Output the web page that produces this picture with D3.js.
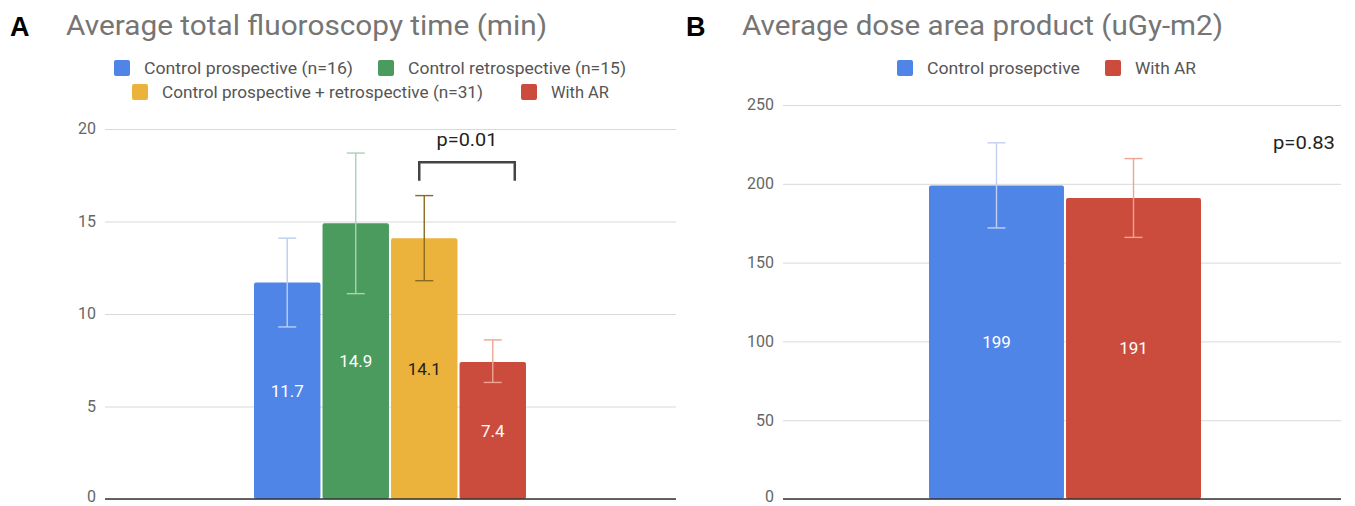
<!DOCTYPE html>
<html><head><meta charset="utf-8">
<script src="https://cdn.jsdelivr.net/npm/d3@7"></script>
<style>
html,body{margin:0;padding:0;background:#fff;}
svg{display:block;font-family:Roboto,"Noto Sans",Arial,sans-serif;}
</style></head>
<body>
<svg id="chart" width="1355" height="506"></svg>
<script>
// ---- Panel A data ----
const fluoroCategories = ["Control prospective (n=16)", "Control retrospective (n=15)", "Control prospective + retrospective (n=31)", "With AR"];
const fluoroValues = [11.7, 14.9, 14.1, 7.4];
const fluoroErrLow = [9.3, 11.1, 11.8, 6.3];
const fluoroErrHigh = [14.1, 18.7, 16.4, 8.6];
const fluoroTicks = [0, 5, 10, 15, 20];
const fluoroLabels = ["11.7", "14.9", "14.1", "7.4"];
// ---- Panel B data ----
const doseCategories = ["Control prosepctive", "With AR"];
const doseValues = [199, 191];
const doseErrLow = [172, 166];
const doseErrHigh = [226, 216];
const doseTicks = [0, 50, 100, 150, 200, 250];
const doseLabels = ["199", "191"];

const svg = d3.select("#chart");

function panel(o) {
  const g = svg.append("g");
  g.append("text").attr("x", o.letterX).attr("y", 36).attr("font-size", 27).attr("font-weight", "bold")
    .attr("fill", "#000").attr("font-family", "Arial, Liberation Sans, sans-serif").text(o.letter);
  g.append("text").attr("x", o.titleX).attr("y", 35).attr("font-size", 27).attr("fill", "#757575")
    .attr("textLength", 481).attr("lengthAdjust", "spacingAndGlyphs").text(o.title);

  const y = d3.scaleLinear().domain([0, o.ticks[o.ticks.length - 1]]).range([499, o.yTop]);
  const x = d3.scaleBand().domain(o.cats).range(o.barRange).paddingInner(o.padInner);

  const yAxis = d3.axisLeft(y).tickValues(o.ticks).tickSize(-(o.gridX1 - o.gridX0)).tickPadding(9);
  const ax = g.append("g").attr("transform", `translate(${o.gridX0},0)`).call(yAxis);
  ax.select(".domain").remove();
  ax.selectAll(".tick line").attr("stroke", "#d9d9d9").attr("stroke-width", 1);
  ax.selectAll(".tick text").attr("fill", "#666").attr("font-size", 16)
    .attr("dy", d => d === 0 ? "0.15em" : "0.3em")
    .attr("font-family", "Roboto, sans-serif");

  g.selectAll("rect.bar").data(o.values).enter().append("rect")
    .attr("x", (d, i) => x(o.cats[i])).attr("width", x.bandwidth())
    .attr("y", d => y(d)).attr("height", d => y(0) - y(d))
    .attr("rx", 2).attr("fill", (d, i) => o.colors[i]);

  g.append("line").attr("x1", o.gridX0).attr("x2", o.gridX1).attr("y1", y(0)).attr("y2", y(0))
    .attr("stroke", "#333").attr("stroke-width", 1.5);

  const cap = 9;
  o.values.forEach((d, i) => {
    const cx = x(o.cats[i]) + x.bandwidth() / 2;
    const c = o.errColors[i];
    g.append("line").attr("x1", cx).attr("x2", cx).attr("y1", y(o.low[i])).attr("y2", y(o.high[i])).attr("stroke", c).attr("stroke-width", 1.4);
    g.append("line").attr("x1", cx - cap).attr("x2", cx + cap).attr("y1", y(o.low[i])).attr("y2", y(o.low[i])).attr("stroke", c).attr("stroke-width", 1.4);
    g.append("line").attr("x1", cx - cap).attr("x2", cx + cap).attr("y1", y(o.high[i])).attr("y2", y(o.high[i])).attr("stroke", c).attr("stroke-width", 1.4);
    g.append("text").attr("x", cx).attr("y", (y(d) + y(0)) / 2).attr("dy", "0.35em").attr("text-anchor", "middle")
      .attr("font-size", 17).attr("fill", o.labelColors[i]).text(o.labels[i]);
  });

  o.legend.forEach(L => {
    g.append("rect").attr("x", L.x).attr("y", L.y - 8).attr("width", 16).attr("height", 16).attr("rx", 2).attr("fill", o.colors[L.i]);
    g.append("text").attr("x", L.x + 30).attr("y", L.y).attr("dy", "0.35em").attr("font-size", 16.5).attr("fill", "#555")
      .attr("textLength", L.w).attr("lengthAdjust", "spacingAndGlyphs").text(o.cats[L.i]);
  });
  return { g, x, y };
}

const A = panel({
  letter: "A", letterX: 10, titleX: 66, title: "Average total fluoroscopy time (min)",
  cats: fluoroCategories, values: fluoroValues, low: fluoroErrLow, high: fluoroErrHigh, labels: fluoroLabels,
  ticks: fluoroTicks, yTop: 129, barRange: [254, 526], padInner: 0.03,
  gridX0: 105, gridX1: 676,
  colors: ["#5085e8", "#4b9b5e", "#ebb33b", "#cb4c3d"],
  errColors: ["#bccdf0", "#a9d2b6", "#8a6a1e", "#eea493"],
  labelColors: ["#fff", "#fff", "#222", "#fff"],
  legend: [{ i: 0, x: 114, y: 68, w: 209 }, { i: 1, x: 378, y: 68, w: 218 }, { i: 2, x: 132, y: 92, w: 321 }, { i: 3, x: 521, y: 92, w: 58 }]
});

(function () {
  const x = A.x, y = A.y;
  const x0 = x(fluoroCategories[2]) + x.bandwidth() / 2 - 5;
  const x1 = x(fluoroCategories[3]) + x.bandwidth() / 2 + 22;
  const yt = y(18.2), yb = y(17.2);
  A.g.append("path").attr("d", `M${x0},${yb}V${yt}H${x1}V${yb}`).attr("fill", "none").attr("stroke", "#444").attr("stroke-width", 2.5);
  A.g.append("text").attr("x", (x0 + x1) / 2).attr("y", y(19.1)).attr("text-anchor", "middle").attr("font-size", 18.5)
    .attr("fill", "#222").attr("textLength", 61).attr("lengthAdjust", "spacingAndGlyphs").text("p=0.01");
})();

const B = panel({
  letter: "B", letterX: 686, titleX: 742, title: "Average dose area product (uGy-m2)",
  cats: doseCategories, values: doseValues, low: doseErrLow, high: doseErrHigh, labels: doseLabels,
  ticks: doseTicks, yTop: 105, barRange: [929, 1201], padInner: 0.015,
  gridX0: 783, gridX1: 1341,
  colors: ["#5085e8", "#cb4c3d"],
  errColors: ["#c3cff2", "#eea493"],
  labelColors: ["#fff", "#fff"],
  legend: [{ i: 0, x: 897, y: 68, w: 153 }, { i: 1, x: 1105, y: 68, w: 61 }]
});
B.g.append("text").attr("x", 1304).attr("y", B.y(226)).attr("dy", "0.35em").attr("text-anchor", "middle").attr("font-size", 18.5)
  .attr("fill", "#222").attr("textLength", 62).attr("lengthAdjust", "spacingAndGlyphs").text("p=0.83");
</script>
</body></html>
